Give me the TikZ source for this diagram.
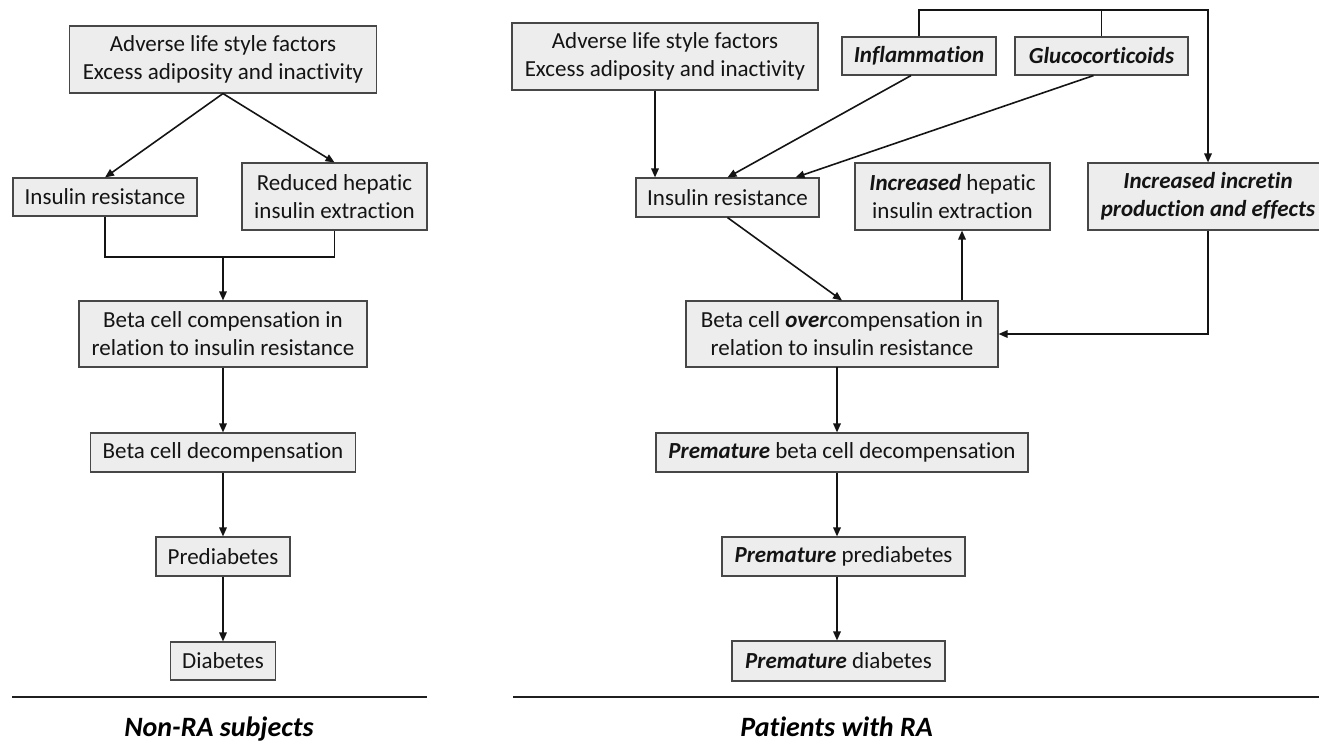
\documentclass[tikz,border=0pt]{standalone}
\usepackage{fontspec}
\setmainfont{Carlito}[Ligatures=NoCommon]
\usetikzlibrary{arrows.meta,calc}
\newcommand{\bi}[1]{\textbf{\textit{#1}}}
\begin{document}
\begin{tikzpicture}[x=1pt,y=-1pt,
  box/.style={draw=black!72, fill=black!7, line width=1.1pt, inner sep=0pt, align=center,
    font=\fontsize{23}{28}\selectfont, text=black!92},
  conn/.style={line width=1.6pt, draw=black!92},
  arr/.style={conn, -{Triangle[length=9pt,width=7.5pt]}},
  rule/.style={line width=2pt, draw=black!88},
  ttl/.style={font=\fontsize{28}{32}\selectfont\bfseries\itshape, anchor=base, inner sep=0pt, text=black}]
\useasboundingbox (0,0) rectangle (1319,745);

% ---------- left panel ----------
\node[box, minimum width=307pt, minimum height=67pt] (la) at (223,59.5) {Adverse life style factors\\Excess adiposity and inactivity};
\node[box, minimum width=184pt, minimum height=38pt] (lir) at (105,197) {Insulin resistance};
\node[box, minimum width=185pt, minimum height=67pt] (lhep) at (334.5,196.5) {Reduced hepatic\\insulin extraction};
\node[box, minimum width=288pt, minimum height=66pt] (lbc) at (223,334) {Beta cell compensation in\\relation to insulin resistance};
\node[box, minimum width=265pt, minimum height=39pt] (lbd) at (223,452.5) {Beta cell decompensation};
\node[box, minimum width=134pt, minimum height=39pt] (lpre) at (223,556.5) {Prediabetes};
\node[box, minimum width=105pt, minimum height=38pt] (ldia) at (223,661) {Diabetes};
\coordinate (jl) at (223,257);

\draw[arr] (la.south) -- (lir.north);
\draw[arr] (la.south) -- (lhep.north);
\draw[conn] (lir.south) |- (jl) -| (lhep.south);
\draw[arr] (jl) -- (lbc.north);
\draw[arr] (lbc.south) -- (lbd.north);
\draw[arr] (lbd.south) -- (lpre.north);
\draw[arr] (lpre.south) -- (ldia.north);

\coordinate (l1) at (12,697);
\coordinate (l2) at (427,697);
\draw[rule] (l1) -- (l2);
\node[ttl] (t1) at (219,736) {Non-RA subjects};

% ---------- right panel ----------
\node[box, minimum width=306pt, minimum height=67pt] (ra) at (665,56.5) {Adverse life style factors\\Excess adiposity and inactivity};
\node[box, minimum width=154pt, minimum height=38pt] (rinf) at (919,56) {\bi{Inflammation}};
\node[box, minimum width=173pt, minimum height=38pt] (rglu) at (1101.5,56) {\bi{Glucocorticoids}};
\node[box, minimum width=183pt, minimum height=39pt] (rir) at (727.5,197.5) {Insulin resistance};
\node[box, minimum width=195pt, minimum height=67pt] (rhep) at (952.5,196.5) {\bi{Increased} hepatic\\insulin extraction};
\node[box, minimum width=240pt, minimum height=67pt] (rinc) at (1208,196.5) {\bi{Increased incretin}\\\bi{production and effects}};
\node[box, minimum width=312pt, minimum height=66pt] (rbo) at (842,334) {Beta cell \bi{over}compensation in\\relation to insulin resistance};
\node[box, minimum width=372pt, minimum height=39pt] (rbd) at (842,452.5) {\bi{Premature} beta cell decompensation};
\node[box, minimum width=243pt, minimum height=39pt] (rpre) at (843.5,556.5) {\bi{Premature} prediabetes};
\node[box, minimum width=213pt, minimum height=40pt] (rdia) at (838.5,661) {\bi{Premature} diabetes};
\coordinate (tp) at (1101.5,10);
\coordinate (col) at (837,367);

\draw[arr] ([xshift=-10pt]ra.south) -- ([xshift=-10pt]ra.south |- rir.north);
\draw[arr] ([xshift=-8pt]rinf.south) -- (rir.north);
\draw[arr] ([xshift=-8pt]rglu.south) -- ([xshift=68pt]rir.north);
\draw[conn] (rglu.north) -- (tp);
\draw[arr] (rinf.north) |- (tp) -| (rinc.north);
\draw[arr] (rir.south) -- (rbo.north);
\draw[arr] ([xshift=120pt]rbo.north) -- ([xshift=120pt]rbo.north |- rhep.south);
\draw[arr] (rinc.south) |- (rbo.east);
\draw[arr] (col) -- (col |- rbd.north);
\draw[arr] (col |- rbd.south) -- (col |- rpre.north);
\draw[arr] (col |- rpre.south) -- (col |- rdia.north);

\coordinate (r1) at (513,697);
\coordinate (r2) at (1319,697);
\draw[rule] (r1) -- (r2);
\node[ttl] (t2) at (836.5,736) {Patients with RA};
\end{tikzpicture}
\end{document}
